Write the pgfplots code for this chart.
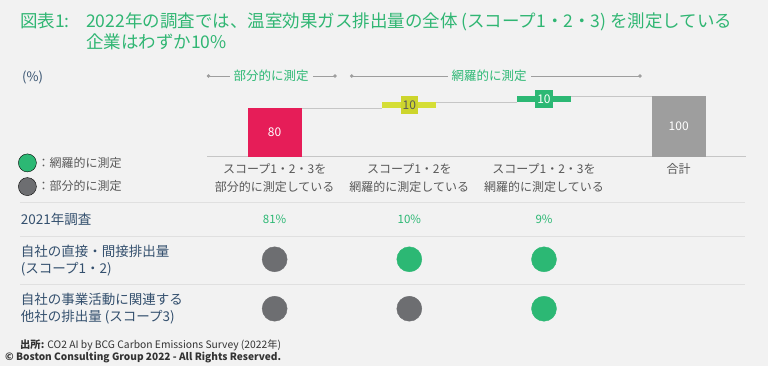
\documentclass[border=0pt]{standalone}
\usepackage{pgfplots}
\pgfplotsset{compat=1.18}
\usepackage{fontspec}
\setmainfont{Noto Sans CJK JP}
\usetikzlibrary{arrows.meta}
\definecolor{bg}{HTML}{F2F2F2}
\definecolor{bcggreen}{HTML}{2CB874}
\definecolor{titlegreen}{HTML}{30B673}
\definecolor{bcgred}{HTML}{E61D58}
\definecolor{bcgyellow}{HTML}{D5DE36}
\definecolor{yellowbox}{HTML}{CDD52C}
\definecolor{bargrey}{HTML}{9E9E9E}
\definecolor{darkcircle}{HTML}{6D6E71}
\definecolor{textgrey}{HTML}{595959}
\definecolor{rowblue}{HTML}{34506E}
\definecolor{linegrey}{HTML}{C6C6C6}
\definecolor{tablegrey}{HTML}{E0E0E0}
\begin{document}
\begin{tikzpicture}[x=1bp,y=1bp]
\fill[bg] (0,0) rectangle (768,-366);
% title
\node[anchor=base west, inner sep=0, text=titlegreen, font=\fontsize{17.5bp}{20bp}\selectfont] at (20,-27.3) {図表1:};
\node[anchor=base west, inner sep=0, text=titlegreen, font=\fontsize{17.5bp}{20bp}\selectfont] at (86,-27.3) {2022年の調査では、温室効果ガス排出量の全体 (スコープ1・2・3) を測定している};
\node[anchor=base west, inner sep=0, text=titlegreen, font=\fontsize{17.5bp}{20bp}\selectfont] at (86,-48) {企業はわずか10\%};
% unit
\node[anchor=west, inner sep=0, text=rowblue, font=\fontsize{13bp}{15bp}\selectfont] at (22,-77) {(\%)};
% brackets
\draw[linegrey!80!black, line width=0.8bp, {Circle[length=3.5bp]}-{Circle[length=3.5bp]}] (206.7,-76) -- (336.7,-76);
\node[fill=bg, inner xsep=4bp, inner ysep=1bp, text=bcggreen, font=\fontsize{12.5bp}{14bp}\selectfont] at (271,-76) {部分的に測定};
\draw[linegrey!80!black, line width=0.8bp, {Circle[length=3.5bp]}-{Circle[length=3.5bp]}] (350,-76) -- (641.7,-76);
\node[fill=bg, inner xsep=4bp, inner ysep=1bp, text=bcggreen, font=\fontsize{12.5bp}{14bp}\selectfont] at (489,-76) {網羅的に測定};
% table rules
\draw[tablegrey, line width=0.8bp] (20,-202.3) -- (745,-202.3);
\draw[tablegrey, line width=0.8bp] (20,-236.7) -- (745,-236.7);
\draw[tablegrey, line width=0.8bp] (20,-284.3) -- (745,-284.3);
% row labels
\node[anchor=west, inner sep=0, text=rowblue, font=\fontsize{13.5bp}{17.5bp}\selectfont] at (20.7,-219) {2021年調査};
\node[anchor=west, inner sep=0, align=left, text=rowblue, font=\fontsize{13.5bp}{17.5bp}\selectfont] at (20.7,-260.5) {自社の直接・間接排出量\\(スコープ1・2)};
\node[anchor=west, inner sep=0, align=left, text=rowblue, font=\fontsize{13.5bp}{17.5bp}\selectfont] at (20.7,-308.7) {自社の事業活動に関連する\\他社の排出量 (スコープ3)};
% source
\node[anchor=west, inner sep=0, text=black!80, font=\fontsize{10.3bp}{12bp}\selectfont] at (20,-345.7) {\textbf{出所:} CO2 AI by BCG Carbon Emissions Survey (2022年)};
\node[anchor=west, inner sep=0, text=black!80, font=\bfseries\fontsize{10.1bp}{12bp}\selectfont] at (5,-357.7) {© Boston Consulting Group 2022 - All Rights Reserved.};

% waterfall
\begin{axis}[
  at={(207.3bp,-156.7bp)}, anchor=south west,
  scale only axis, width=538.7bp, height=60.7bp,
  xmin=-0.5, xmax=3.5, ymin=0, ymax=100,
  axis line style={draw=none},
  ytick=\empty,
  xtick={0,1,2,3},
  xticklabels={{スコープ1・2・3を\\部分的に測定している},{スコープ1・2を\\網羅的に測定している},{スコープ1・2・3を\\網羅的に測定している},{合計}},
  x tick label style={align=center, text=textgrey, font=\fontsize{12bp}{18bp}\selectfont, anchor=north, inner sep=0pt, yshift=-6.5bp},
  major tick length=0pt,
  ybar stacked, bar width=0.4,
  clip=false,
  legend style={at={(axis description cs:-0.3514,0.053)}, anchor=north west, draw=none, fill=none, inner sep=0pt,
    font=\fontsize{12bp}{14bp}\selectfont, text=textgrey, row sep=5.3bp,
    nodes={inner sep=1bp}},
  legend cell align=left,
  legend image code/.code={\fill[#1] (9bp,0bp) circle (9bp);},
]
\addlegendimage{fill=bcggreen}
\addlegendentry{：網羅的に測定}
\addlegendimage{fill=darkcircle}
\addlegendentry{：部分的に測定}
\addplot[draw=none, fill=none, forget plot] coordinates {(0,0) (1,80) (2,90) (3,0)};
\addplot[draw=none, fill=bcgred, forget plot] coordinates {(0,80) (1,0) (2,0) (3,0)};
\addplot[draw=none, fill=bcgyellow, forget plot] coordinates {(0,0) (1,10) (2,0) (3,0)};
\addplot[draw=none, fill=bcggreen, forget plot] coordinates {(0,0) (1,0) (2,10) (3,0)};
\addplot[draw=none, fill=bargrey, forget plot] coordinates {(0,0) (1,0) (2,0) (3,100)};
\draw[linegrey, line width=1bp] (axis cs:-0.5,0) -- (axis cs:3.5,0);
\draw[linegrey, line width=0.8bp] (axis cs:0.2,80) -- (axis cs:0.8,80);
\draw[linegrey, line width=0.8bp] (axis cs:1.2,90) -- (axis cs:1.8,90);
\draw[linegrey, line width=0.8bp] (axis cs:2.2,100) -- (axis cs:2.8,100);
\coordinate (v1) at (axis cs:0,40);
\coordinate (v2) at (axis cs:1,85);
\coordinate (v3) at (axis cs:2,95);
\coordinate (v4) at (axis cs:3,50);
\end{axis}
\node[text=white, font=\fontsize{12bp}{14bp}\selectfont] at (v1) {80};
\node[fill=yellowbox, text=textgrey, minimum width=17bp, minimum height=17.3bp, inner sep=0pt, font=\fontsize{12bp}{14bp}\selectfont] at (v2) {10};
\node[fill=bcggreen, text=white, minimum width=17.4bp, minimum height=17.7bp, inner sep=0pt, font=\fontsize{12bp}{14bp}\selectfont] at (v3) {10};
\node[text=white, font=\fontsize{12bp}{14bp}\selectfont] at (v4) {100};

% table marks
\begin{axis}[
  at={(207.3bp,-333.4bp)}, anchor=south west,
  scale only axis, width=538.7bp, height=98.8bp,
  xmin=-0.5, xmax=3.5, ymin=-0.5, ymax=1.5,
  hide axis, clip=false,
]
\addplot[only marks, mark=*, mark size=12.5bp, color=bcggreen, mark options={draw=none}] coordinates {(1,1) (2,1) (2,0)};
\addplot[only marks, mark=*, mark size=12.5bp, color=darkcircle, mark options={draw=none}] coordinates {(0,1) (0,0) (1,0)};
\node[text=bcggreen, font=\fontsize{11.5bp}{13bp}\selectfont] at (axis cs:0,1.816) {81\%};
\node[text=bcggreen, font=\fontsize{11.5bp}{13bp}\selectfont] at (axis cs:1,1.816) {10\%};
\node[text=bcggreen, font=\fontsize{11.5bp}{13bp}\selectfont] at (axis cs:2,1.816) {9\%};
\end{axis}
\end{tikzpicture}
\end{document}
